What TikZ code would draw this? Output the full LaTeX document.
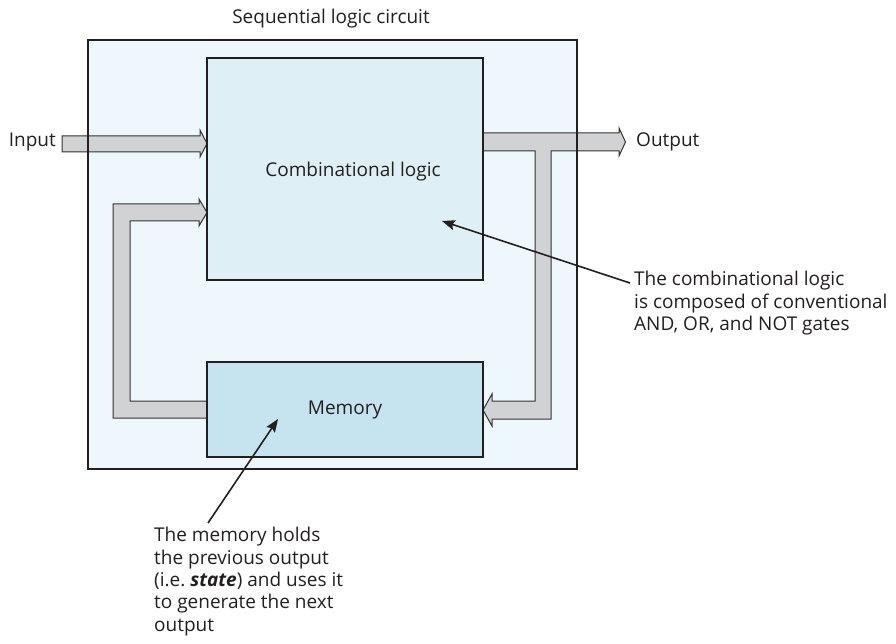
\documentclass[tikz,border=0pt]{standalone}
\usepackage{fontspec}
\setmainfont{Open Sans}
\usetikzlibrary{arrows.meta,calc}

\definecolor{ink}{HTML}{231F20}
\definecolor{outerfill}{HTML}{EEF7FB}
\definecolor{combfill}{HTML}{DEF0F5}
\definecolor{memfill}{HTML}{C5E4EF}
\definecolor{busfill}{HTML}{D1D2D4}
\definecolor{busline}{HTML}{353334}

\tikzset{
  boxline/.style={draw=ink, line width=2pt},
  logicbox/.style={boxline, rectangle, inner sep=0pt},
  bus/.style={fill=busfill, draw=busline, line width=1pt, line join=miter},
  label/.style={text=ink, inner sep=0pt, font=\fontsize{19}{22.4}\selectfont},
  note/.style={label, align=left},
  pointer/.style={draw=ink, line width=1.6pt,
    -{Stealth[length=13pt,width=10pt,inset=2pt]}}
}

\begin{document}
\begin{tikzpicture}[x=1pt,y=-1pt]
\useasboundingbox (0,0) rectangle (896,644);

% enclosing sequential circuit (fill first, border after the buses)
\node[rectangle, fill=outerfill, minimum width=489pt, minimum height=429pt,
      inner sep=0pt] (outer) at (332.5,254.5) {};
\node[label] (title) at (331,19) {Sequential logic circuit};

% input bus
\draw[bus] (62,136) -- (200,136) -- (200,130) -- (207,143.5) -- (200,157)
  -- (200,152) -- (62,152) -- cycle;
\node[label, anchor=east] (input) at (56,142) {Input};

% output bus with the branch back to the memory
\draw[bus] (483,133) -- (619,133) -- (619,128) -- (625.5,142) -- (619,156)
  -- (619,151) -- (551,151) -- (551,419) -- (492,419) -- (492,426)
  -- (483,410) -- (492,394) -- (492,401) -- (535,401) -- (535,151)
  -- (483,151) -- cycle;
\node[label, anchor=west] (output) at (636,142) {Output};

% state fed back from the memory to the combinational logic
\draw[bus] (207,401) -- (130,401) -- (130,221) -- (199,221) -- (199,226)
  -- (207,212.5) -- (199,199) -- (199,204) -- (113,204) -- (113,418)
  -- (207,418) -- cycle;

\draw[boxline] (outer.north west) rectangle (outer.south east);

% functional blocks
\node[logicbox, fill=combfill, minimum width=276pt, minimum height=222pt]
  (comb) at (345,169) {};
\node[label] (comblabel) at (353,172) {Combinational logic};
\node[logicbox, fill=memfill, minimum width=276pt, minimum height=95pt,
      label] (mem) at (345,409.5) {Memory};

% explanatory notes
\node[note, anchor=north west] (combnote) at (634,271)
  {The combinational logic\\is composed of conventional\\AND, OR, and NOT gates};
\coordinate (combtip) at (442,221);
\draw[pointer] ($(combnote.north west)+(-4,12)$) -- (combtip);

\node[note, anchor=north west] (memnote) at (154,527)
  {The memory holds\\the previous output\\(i.e.\ \textbf{\itshape state}) and uses it\\to generate the next\\output};
\coordinate (memtip) at (278,419);
\draw[pointer] ($(memnote.north west)+(54,-4)$) -- (memtip);
\end{tikzpicture}
\end{document}
